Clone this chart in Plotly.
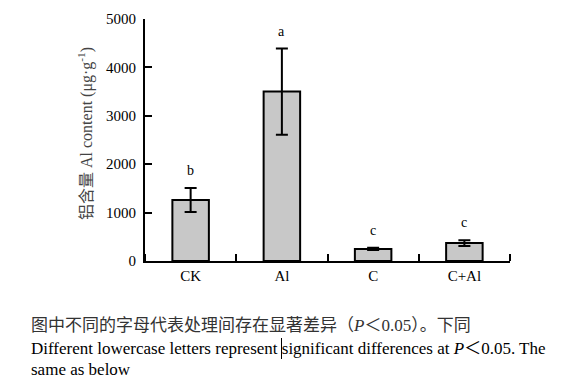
import plotly.graph_objects as go

categories = ["CK", "Al", "C", "C+Al"]
values = [1260, 3500, 250, 370]
errors = [250, 890, 25, 60]
letters = ["b", "a", "c", "c"]
y_ticks = [0, 1000, 2000, 3000, 4000, 5000]

caption_cn = "图中不同的字母代表处理间存在显著差异（<i>P</i>＜0.05）。下同"
caption_en1 = "Different lowercase letters represent significant differences at <i>P</i>＜0.05. The"
caption_en2 = "same as below"

serif = "Liberation Serif, Times New Roman, serif"
serif_cjk = "Liberation Serif, Noto Sans CJK SC, serif"
x_pos = list(range(len(categories)))

fig = go.Figure()
fig.add_trace(go.Bar(
    x=x_pos, y=values, width=0.4,
    marker=dict(color="#c8c8c8", line=dict(color="black", width=2)),
    error_y=dict(type="data", array=errors, visible=True, color="black", thickness=2, width=6),
    showlegend=False, hoverinfo="skip",
))

for xi, v, e, l in zip(x_pos, values, errors, letters):
    fig.add_annotation(x=xi, y=v + e, text=l, showarrow=False, yanchor="bottom", yshift=8,
                       font=dict(family=serif, size=14, color="black"))

fig.update_layout(
    width=562, height=382,
    margin=dict(l=145, r=52, t=19, b=121),
    paper_bgcolor="white", plot_bgcolor="white",
    bargap=0.6,
)
fig.update_xaxes(
    range=[-0.5, 3.5], tickmode="array", tickvals=x_pos, ticktext=categories, ticks="",
    showline=True, linecolor="black", linewidth=2, showgrid=False, zeroline=False,
    tickfont=dict(family=serif, size=15, color="black"),
    minor=dict(tick0=0.5, dtick=1, ticks="inside", ticklen=7, tickwidth=2, tickcolor="black", showgrid=False),
)
fig.update_yaxes(
    range=[0, 5000], tickmode="array", tickvals=y_ticks, ticks="inside", ticklen=7, tickwidth=2,
    tickcolor="black", showline=True, linecolor="black", linewidth=2, showgrid=False, zeroline=False,
    tickfont=dict(family=serif, size=15, color="black"), ticklabelstandoff=4,
)

fig.add_annotation(xref="paper", yref="paper", x=(85 - 145) / 365, y=(261 - 134) / 242,
                   text="铝含量 Al content (μg·g<sup>-1</sup>)", textangle=-90, showarrow=False,
                   xanchor="center", yanchor="middle",
                   font=dict(family=serif_cjk, size=16, color="#444444"))

def px_x(px):
    return (px - 145) / 365

def px_y(py):
    return (261 - py) / 242

fig.add_annotation(xref="paper", yref="paper", x=px_x(29), y=px_y(325), text=caption_cn,
                   showarrow=False, xanchor="left", yanchor="middle",
                   font=dict(family=serif_cjk, size=17, color="#333333"))
fig.add_annotation(xref="paper", yref="paper", x=px_x(29), y=px_y(348), text=caption_en1,
                   showarrow=False, xanchor="left", yanchor="middle",
                   font=dict(family=serif_cjk, size=17, color="black"))
fig.add_annotation(xref="paper", yref="paper", x=px_x(29), y=px_y(369), text=caption_en2,
                   showarrow=False, xanchor="left", yanchor="middle",
                   font=dict(family=serif, size=17, color="black"))
fig.add_shape(type="line", xref="paper", yref="paper", x0=px_x(281.5), x1=px_x(281.5),
              y0=px_y(338), y1=px_y(359), line=dict(color="black", width=1))

fig.write_html("out.html", config={"displayModeBar": False, "staticPlot": True},
               post_script="document.body.style.margin='0';document.body.style.overflow='hidden';")
